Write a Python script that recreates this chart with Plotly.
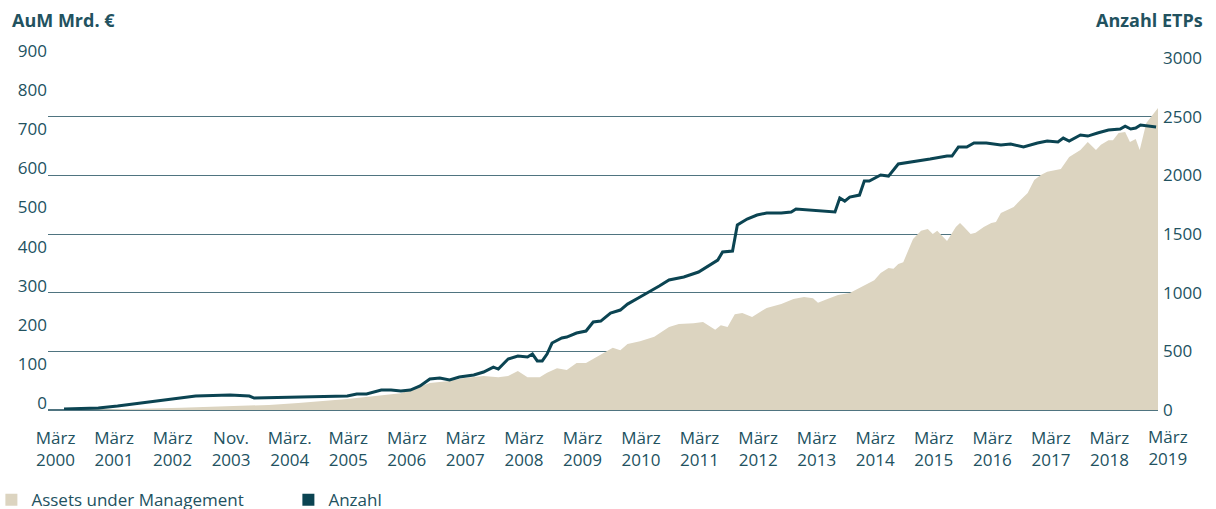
import plotly.graph_objects as go
import pandas as pd

# Anzahl ETPs (right axis)
count_dates = ["2000-04-23","2000-11-23","2001-03-23","2001-11-23","2002-02-23","2002-07-23","2003-02-23","2003-06-23","2003-07-23","2004-04-23",
               "2005-02-23","2005-04-23","2005-06-23","2005-09-23","2005-11-23","2006-01-23","2006-03-23","2006-05-23","2006-07-23","2006-09-23",
               "2006-11-23","2007-01-23","2007-04-23","2007-06-23","2007-08-23","2007-09-23","2007-11-23","2008-01-23","2008-03-23","2008-04-23",
               "2008-05-23","2008-06-23","2008-07-23","2008-08-23","2008-10-23","2008-11-23","2009-01-23","2009-03-23","2009-05-07","2009-06-23",
               "2009-08-23","2009-10-23","2009-12-07","2010-02-23","2010-04-23","2010-06-23","2010-08-23","2010-11-23","2011-02-23","2011-05-07",
               "2011-06-23","2011-07-23","2011-09-23","2011-10-23","2011-12-23","2012-02-23","2012-04-23","2012-07-23","2012-09-23","2012-10-23",
               "2013-01-23","2013-03-23","2013-06-23","2013-07-23","2013-08-23","2013-09-23","2013-11-23","2013-12-23","2014-01-23","2014-04-04",
               "2014-05-23","2014-07-23","2014-10-23","2015-02-06","2015-05-23","2015-06-23","2015-08-02","2015-09-23","2015-11-07","2016-01-23",
               "2016-04-23","2016-06-23","2016-09-11","2016-12-07","2017-02-06","2017-04-14","2017-05-17","2017-06-23","2017-09-01","2017-10-17",
               "2017-12-17","2018-02-23","2018-05-07","2018-06-07","2018-07-12","2018-08-12","2018-09-11","2018-10-24","2018-12-17"]
count_vals = [9, 17, 34, 77, 94, 119, 128, 119, 102, 111,
              119, 136, 136, 170, 170, 162, 170, 205, 264, 273,
              256, 281, 298, 324, 366, 349, 435, 460, 452, 477,
              418, 418, 477, 571, 614, 622, 656, 673, 750, 758,
              827, 852, 903, 963, 1006, 1057, 1108, 1134, 1176, 1236,
              1278, 1347, 1355, 1577, 1628, 1662, 1679, 1679, 1688, 1713,
              1705, 1696, 1688, 1807, 1781, 1815, 1832, 1952, 1952, 2003,
              1994, 2097, 2114, 2139, 2165, 2165, 2242, 2242, 2276, 2276,
              2259, 2267, 2242, 2276, 2293, 2284, 2318, 2293, 2344, 2335,
              2361, 2386, 2395, 2420, 2395, 2403, 2429, 2420, 2412]

# Assets under Management, Mrd. EUR (left axis)
aum_dates = ["2000-04-23","2000-10-23","2001-04-23","2001-10-23","2002-04-23","2002-10-23","2003-04-23","2003-10-23","2004-04-23","2005-02-23",
             "2006-01-23","2006-07-23","2006-11-23","2007-02-23","2007-06-23","2007-09-23","2007-11-23","2008-01-23","2008-03-23","2008-06-07",
             "2008-07-23","2008-09-23","2008-11-23","2009-01-23","2009-03-23","2009-06-23","2009-09-06","2009-10-23","2009-12-07","2010-02-23",
             "2010-05-23","2010-08-23","2010-10-23","2011-01-23","2011-03-23","2011-06-07","2011-07-12","2011-08-23","2011-10-07","2011-11-23",
             "2012-01-23","2012-04-23","2012-07-23","2012-10-07","2012-12-12","2013-02-06","2013-03-09","2013-05-07","2013-07-12","2013-09-23",
             "2013-11-23","2014-02-23","2014-04-04","2014-05-23","2014-06-23","2014-07-23","2014-08-23","2014-10-23","2014-12-12","2015-01-23",
             "2015-02-23","2015-03-23","2015-04-23","2015-05-23","2015-07-17","2015-08-12","2015-09-06","2015-10-17","2015-11-17","2016-01-07",
             "2016-02-23","2016-03-23","2016-04-23","2016-06-02","2016-07-12","2016-08-23","2016-10-07","2016-11-17","2016-12-28","2017-02-06",
             "2017-05-02","2017-06-23","2017-07-23","2017-09-01","2017-10-17","2017-12-07","2018-01-07","2018-02-23","2018-03-23","2018-04-27",
             "2018-06-07","2018-07-07","2018-08-12","2018-09-06","2018-10-17","2018-11-22","2018-12-29"]
aum_vals = [0, 1, 2, 4, 6, 8, 10, 13, 18, 28,
            43, 69, 74, 82, 87, 84, 87, 100, 84, 84,
            95, 107, 102, 120, 120, 141, 159, 153, 169, 176,
            187, 212, 220, 222, 225, 205, 217, 212, 245, 248,
            238, 261, 271, 284, 289, 286, 274, 284, 294, 299,
            312, 332, 350, 363, 361, 373, 378, 437, 458, 463,
            450, 458, 445, 432, 468, 478, 468, 450, 453, 468,
            478, 481, 504, 511, 519, 537, 555, 588, 601, 609,
            616, 647, 655, 665, 685, 665, 678, 690, 690, 708,
            711, 685, 693, 665, 734, 754, 772]

tick_dates = ["%d-03-01" % y for y in range(2000, 2019)]
tick_text = ["März<br>2000", "März<br>2001", "März<br>2002", "Nov.<br>2003", "März.<br>2004",
             "März<br>2005", "März<br>2006", "März<br>2007", "März<br>2008", "März<br>2009",
             "März<br>2010", "März<br>2011", "März<br>2012", "März<br>2013", "März<br>2014",
             "März<br>2015", "März<br>2016", "März<br>2017", "März<br>2018"]
last_tick_date = "2019-03-01"
last_tick_text = "März<br>2019"

X_RANGE = ["2000-01-14", "2018-12-29"]

TEXT = "#22525f"
LINE = "#0b4452"
BEIGE = "#dcd4c0"
GRID = "#4f7480"
FONT = "Open Sans"

# position of the last tick label (outside the plotted range) as a fraction of the x domain
_x0, _x1 = pd.Timestamp(X_RANGE[0]), pd.Timestamp(X_RANGE[1])
last_tick_frac = (pd.Timestamp(last_tick_date) - _x0) / (_x1 - _x0)

fig = go.Figure()
fig.add_trace(go.Scatter(x=aum_dates, y=aum_vals, mode="lines", fill="tozeroy",
                         fillcolor=BEIGE, line=dict(width=0, color=BEIGE),
                         showlegend=False, hoverinfo="skip", yaxis="y"))
fig.add_trace(go.Scatter(x=count_dates, y=count_vals, mode="lines",
                         line=dict(width=3, color=LINE),
                         showlegend=False, yaxis="y2"))
# legend entries (square swatches)
fig.add_trace(go.Scatter(x=[None], y=[None], mode="markers", name="Assets under Management",
                         marker=dict(symbol="square", size=13, color=BEIGE)))
fig.add_trace(go.Scatter(x=[None], y=[None], mode="markers", name="Anzahl",
                         marker=dict(symbol="square", size=13, color=LINE)))

fig.update_layout(
    width=1216, height=509,
    margin=dict(l=48, r=58, t=58, b=99, autoexpand=False),
    paper_bgcolor="white", plot_bgcolor="white",
    font=dict(family=FONT, size=17, color=TEXT),
    xaxis=dict(type="date", range=X_RANGE, automargin=False,
               tickmode="array", tickvals=tick_dates, ticktext=tick_text,
               showgrid=False, zeroline=False, showline=False, ticks="",
               ticklabelstandoff=16,
               tickfont=dict(size=17, color=TEXT)),
    yaxis=dict(range=[0, 900], tickmode="linear", tick0=0, dtick=100, automargin=False,
               showgrid=False, zeroline=False, showline=False, ticks="",
               ticklabelshift=-7,
               tickfont=dict(size=17, color=TEXT)),
    yaxis2=dict(range=[0, 3000.5], tickmode="linear", tick0=0, dtick=500, automargin=False,
                overlaying="y", side="right",
                showgrid=True, gridcolor=GRID, gridwidth=1,
                zeroline=True, zerolinecolor=GRID, zerolinewidth=1.5,
                showline=False, ticks="", ticklabelstandoff=4,
                tickfont=dict(size=17, color=TEXT)),
    legend=dict(orientation="h", x=-0.051, xanchor="left", y=-0.256, yanchor="middle",
                font=dict(size=17, color=TEXT), entrywidth=252, entrywidthmode="pixels",
                itemsizing="constant", bgcolor="rgba(0,0,0,0)"),
    annotations=[
        dict(text="<b>AuM Mrd. €</b>", xref="paper", yref="paper", x=-0.0342, y=1.108,
             xanchor="left", yanchor="middle", showarrow=False,
             font=dict(size=18, color=TEXT, family=FONT)),
        dict(text="<b>Anzahl ETPs</b>", xref="paper", yref="paper", x=1.0423, y=1.108,
             xanchor="right", yanchor="middle", showarrow=False,
             font=dict(size=18, color=TEXT, family=FONT)),
        dict(text=last_tick_text, xref="x domain", yref="paper", x=last_tick_frac, y=-0.038,
             xanchor="center", yanchor="top", showarrow=False,
             font=dict(size=17, color=TEXT, family=FONT)),
    ],
)

fig.write_html("out.html", config={"displayModeBar": False},
               post_script="document.body.style.margin='0';")
